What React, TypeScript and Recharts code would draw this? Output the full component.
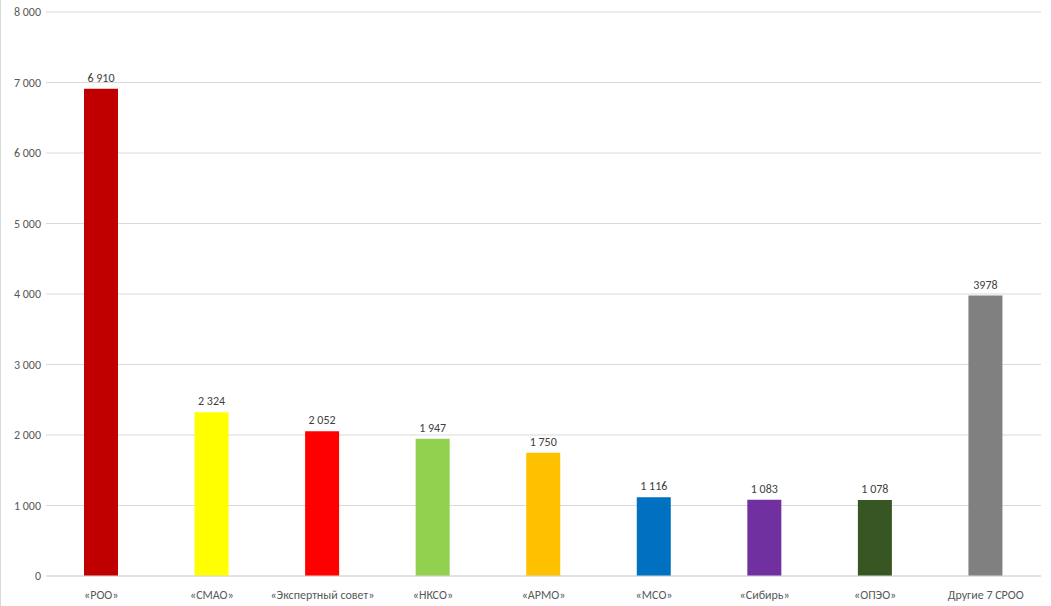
import { Bar, BarChart, CartesianGrid, Cell, LabelList, XAxis, YAxis } from "recharts";

const categories = [
  "«РОО»",
  "«СМАО»",
  "«Экспертный совет»",
  "«НКСО»",
  "«АРМО»",
  "«МСО»",
  "«Сибирь»",
  "«ОПЭО»",
  "Другие 7 СРОО",
];
const values = [6910, 2324, 2052, 1947, 1750, 1116, 1083, 1078, 3978];
const valueLabels = ["6 910", "2 324", "2 052", "1 947", "1 750", "1 116", "1 083", "1 078", "3978"];
const colors = ["#C00000", "#FFFF00", "#FF0000", "#92D050", "#FFC000", "#0070C0", "#7030A0", "#375623", "#808080"];
const yTicks = [0, 1000, 2000, 3000, 4000, 5000, 6000, 7000, 8000];

const fmt = (v: number) => (v === 0 ? "0" : `${Math.floor(v / 1000)} ${String(v % 1000).padStart(3, "0")}`);

const font = "Carlito, Calibri, 'Liberation Sans', Arial, sans-serif";

export default function App() {
  const data = categories.map((name, i) => ({ name, value: values[i], label: valueLabels[i] }));

  return (
    <div
      style={{
        position: "absolute",
        top: 0,
        left: 0,
        width: 1051,
        height: 606,
        background: "#fff",
        borderLeft: "1px solid #d9d9d9",
        boxSizing: "border-box",
        fontFamily: font,
      }}
    >
      <BarChart width={1050} height={606} data={data} margin={{ top: 12, right: 10, left: 0, bottom: 0 }}>
        <CartesianGrid vertical={false} stroke="#d9d9d9" />
        <XAxis
          dataKey="name"
          axisLine={{ stroke: "#d9d9d9" }}
          tickLine={false}
          height={30}
          tick={{ fill: "#595959", fontSize: 12, fontFamily: font }}
          interval={0}
          tickMargin={8}
        />
        <YAxis
          domain={[0, 8000]}
          ticks={yTicks}
          tickFormatter={fmt}
          axisLine={false}
          tickLine={false}
          width={45}
          tickMargin={2}
          tick={{ fill: "#595959", fontSize: 12, fontFamily: font, dx: 3 }}
        />
        <Bar dataKey="value" barSize={34} isAnimationActive={false}>
          {data.map((d, i) => (
            <Cell key={d.name} fill={colors[i]} />
          ))}
          <LabelList
            dataKey="label"
            position="top"
            offset={7}
            fill="#404040"
            fontSize={12}
            fontFamily={font}
            formatter={(v: string) => String(v).replace(/ /g, "\u00A0")}
          />
        </Bar>
      </BarChart>
    </div>
  );
}
